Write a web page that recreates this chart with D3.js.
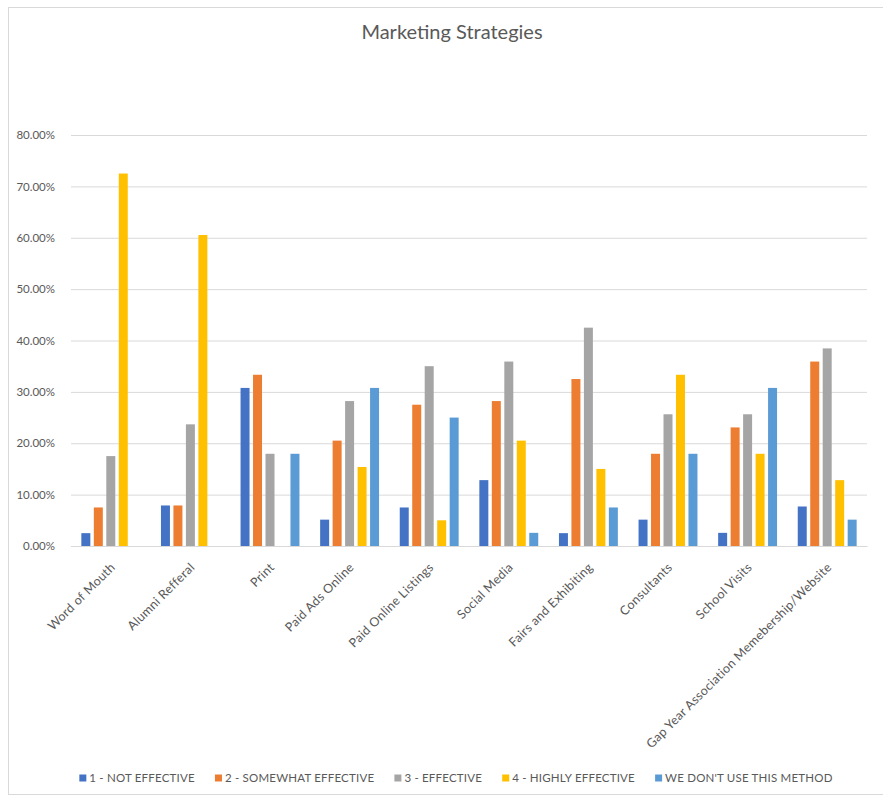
<!DOCTYPE html>
<html>
<head>
<meta charset="utf-8">
<script src="https://cdn.jsdelivr.net/npm/d3@7/dist/d3.min.js"></script>
<style>
  html, body { margin: 0; padding: 0; background: #ffffff; overflow: hidden; }
  svg { display: block; font-family: Lato, "Open Sans", sans-serif; }
</style>
</head>
<body>
<svg id="chart" width="883" height="800"></svg>
<script>
// Survey results: share of respondents rating each marketing strategy
const categories = [
  "Word of Mouth", "Alumni Refferal", "Print", "Paid Ads Online",
  "Paid Online Listings", "Social Media", "Fairs and Exhibiting",
  "Consultants", "School Visits", "Gap Year Association Memebership/Website"
];
const seriesNames = [
  "1 - NOT EFFECTIVE", "2 - SOMEWHAT EFFECTIVE", "3 - EFFECTIVE",
  "4 - HIGHLY EFFECTIVE", "WE DON'T USE THIS METHOD"
];
const notEffective      = [0.025, 0.0789, 0.3077, 0.0513, 0.075, 0.1282, 0.025, 0.0513, 0.0256, 0.0769];
const somewhatEffective = [0.075, 0.0789, 0.3333, 0.2051, 0.275, 0.2821, 0.325, 0.1795, 0.2308, 0.359];
const effective         = [0.175, 0.2368, 0.1795, 0.2821, 0.35, 0.359, 0.425, 0.2564, 0.2564, 0.3846];
const highlyEffective   = [0.725, 0.6053, 0, 0.1538, 0.05, 0.2051, 0.15, 0.3333, 0.1795, 0.1282];
const notUsed           = [0, 0, 0.1795, 0.3077, 0.25, 0.0256, 0.075, 0.1795, 0.3077, 0.0513];
const yTicks = [0, 0.1, 0.2, 0.3, 0.4, 0.5, 0.6, 0.7, 0.8];

const seriesValues = [notEffective, somewhatEffective, effective, highlyEffective, notUsed];
const colors = ["#4472C4", "#ED7D31", "#A5A5A5", "#FFC000", "#5B9BD5"];

const svg = d3.select("#chart");
const W = 883, H = 800;
const plot = { left: 71, right: 867, top: 135, bottom: 546 };

// chart frame (runs off the right edge)
svg.append("rect")
  .attr("x", 8.5).attr("y", 7.5)
  .attr("width", W + 20).attr("height", 787)
  .attr("fill", "#ffffff").attr("stroke", "#d9d9d9");

// title
svg.append("text")
  .attr("x", 452).attr("y", 39)
  .attr("text-anchor", "middle")
  .attr("font-size", 20)
  .attr("fill", "#595959")
  .text("Marketing Strategies");

const x0 = d3.scaleBand()
  .domain(categories)
  .range([plot.left, plot.right])
  .paddingInner(0.26)
  .paddingOuter(0.13);

const x1 = d3.scaleBand()
  .domain(d3.range(seriesNames.length))
  .range([0, x0.bandwidth()])
  .paddingInner(0.28)
  .paddingOuter(0);

const y = d3.scaleLinear().domain([0, 0.8]).range([plot.bottom, plot.top]);

// gridlines + y labels
const yAxis = d3.axisLeft(y)
  .tickValues(yTicks)
  .tickFormat(d3.format(".2%"))
  .tickSize(-(plot.right - plot.left))
  .tickPadding(16);

const gy = svg.append("g")
  .attr("transform", `translate(${plot.left},0)`)
  .call(yAxis);
gy.select(".domain").remove();
gy.selectAll(".tick line").attr("stroke", "#d9d9d9");
gy.selectAll(".tick text")
  .attr("fill", "#595959")
  .attr("font-size", 11.5)
  .attr("font-family", "Lato, sans-serif");

// bars
const groups = svg.append("g").selectAll("g")
  .data(categories)
  .join("g")
  .attr("transform", d => `translate(${x0(d)},0)`);

groups.selectAll("rect")
  .data((c, ci) => seriesValues.map((vals, si) => ({ si, v: vals[ci] })))
  .join("rect")
  .attr("x", d => x1(d.si))
  .attr("width", x1.bandwidth())
  .attr("y", d => y(d.v))
  .attr("height", d => y(0) - y(d.v))
  .attr("fill", d => colors[d.si]);

// category axis
const xAxis = d3.axisBottom(x0).tickSize(0).tickPadding(0);
const gx = svg.append("g")
  .attr("transform", `translate(0,${plot.bottom})`)
  .call(xAxis);
gx.select(".domain").attr("stroke", "#d9d9d9");
gx.selectAll(".tick text")
  .attr("fill", "#595959")
  .attr("font-size", 12.5)
  .attr("letter-spacing", 0.3)
  .attr("font-family", "Lato, sans-serif")
  .attr("text-anchor", "end")
  .attr("dy", "0.35em")
  .attr("transform", "translate(2,19) rotate(-45)");

// legend
const legend = svg.append("g").attr("transform", "translate(0,782)");
const items = legend.selectAll("g")
  .data(seriesNames)
  .join("g");
items.append("rect")
  .attr("width", 7).attr("height", 7)
  .attr("y", -7.5)
  .attr("fill", (d, i) => colors[i]);
items.append("text")
  .attr("x", 10).attr("y", 0)
  .attr("font-size", 11.5)
  .attr("letter-spacing", 0.2)
  .attr("fill", "#595959")
  .text(d => d);
const widths = [];
items.each(function () { widths.push(this.getBBox().width); });
const gap = 20;
const total = d3.sum(widths) + gap * (widths.length - 1);
let cx = 456 - total / 2;
items.attr("transform", (d, i) => {
  const t = `translate(${cx},0)`;
  cx += widths[i] + gap;
  return t;
});
</script>
</body>
</html>
